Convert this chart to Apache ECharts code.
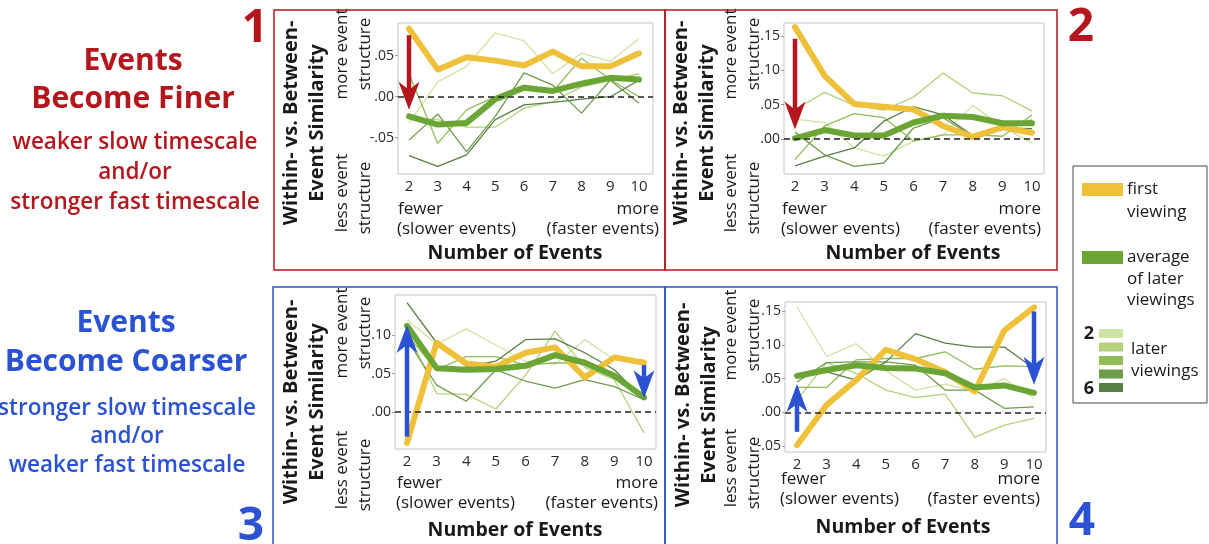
<!DOCTYPE html>
<html><head><meta charset="utf-8">
<script src="https://cdn.jsdelivr.net/npm/echarts@6/dist/echarts.min.js"></script>
<style>html,body{margin:0;padding:0;background:#fff}#c{width:1209px;height:544px}</style>
</head><body><div id="c"></div>
<script>
// ---------- DATA ----------
const numEvents = [2, 3, 4, 5, 6, 7, 8, 9, 10];

// Panel 1: Events become finer (red, left)
const p1First = [0.083, 0.033, 0.048, 0.044, 0.038, 0.055, 0.037, 0.037, 0.053];
const p1Avg   = [-0.024, -0.034, -0.032, -0.003, 0.011, 0.007, 0.016, 0.023, 0.021];
const p1View2 = [-0.032, 0.018, 0.037, 0.078, 0.068, 0.028, 0.053, 0.043, 0.071];
const p1View3 = [-0.026, -0.028, -0.037, -0.037, -0.014, -0.006, 0.012, 0.020, 0.028];
const p1View4 = [0.028, -0.057, -0.016, 0.000, 0.014, 0.006, 0.047, 0.021, 0.000];
const p1View5 = [-0.053, -0.021, -0.067, -0.024, 0.029, 0.014, -0.020, 0.020, -0.008];
const p1View6 = [-0.072, -0.085, -0.071, -0.028, -0.010, -0.007, -0.003, 0.000, 0.020];
const p1Arrows = [[2, 0.075, -0.016]];

// Panel 2: Events become finer (red, right)
const p2First = [0.163, 0.092, 0.051, 0.047, 0.043, 0.019, 0.003, 0.017, 0.009];
const p2Avg   = [0.001, 0.013, 0.005, 0.005, 0.024, 0.034, 0.032, 0.023, 0.023];
const p2View2 = [0.029, 0.024, -0.013, -0.025, -0.003, 0.006, 0.049, 0.018, -0.006];
const p2View3 = [0.043, 0.068, 0.049, 0.042, 0.061, 0.096, 0.067, 0.063, 0.041];
const p2View4 = [-0.030, 0.019, 0.037, 0.031, -0.003, 0.006, 0.006, 0.004, 0.035];
const p2View5 = [0.010, -0.023, -0.040, -0.035, 0.016, 0.031, 0.004, 0.014, 0.028];
const p2View6 = [-0.039, -0.025, -0.013, 0.026, 0.047, 0.035, 0.005, 0.016, 0.015];
const p2Arrows = [[2, 0.146, 0.014]];

// Panel 3: Events become coarser (blue, left)
const p3First = [-0.040, 0.090, 0.063, 0.059, 0.077, 0.084, 0.045, 0.071, 0.064];
const p3Avg   = [0.112, 0.057, 0.055, 0.056, 0.060, 0.074, 0.064, 0.047, 0.019];
const p3View2 = [0.120, 0.088, 0.108, 0.087, 0.066, 0.062, 0.094, 0.068, 0.068];
const p3View3 = [0.105, 0.024, 0.023, 0.004, 0.048, 0.105, 0.058, 0.042, -0.027];
const p3View4 = [0.100, 0.055, 0.072, 0.072, 0.061, 0.064, 0.063, 0.048, 0.018];
const p3View5 = [0.094, 0.035, 0.014, 0.055, 0.040, 0.031, 0.042, 0.033, 0.016];
const p3View6 = [0.142, 0.090, 0.059, 0.066, 0.094, 0.095, 0.077, 0.055, 0.016];
const p3Arrows = [[2, -0.032, 0.113], [10, 0.061, 0.018]];

// Panel 4: Events become coarser (blue, right)
const p4First = [-0.049, 0.011, 0.048, 0.093, 0.079, 0.060, 0.031, 0.122, 0.156];
const p4Avg   = [0.054, 0.063, 0.070, 0.066, 0.065, 0.058, 0.037, 0.040, 0.029];
const p4View2 = [0.157, 0.083, 0.102, 0.062, 0.033, 0.042, 0.031, 0.050, 0.021];
const p4View3 = [0.018, 0.074, 0.058, 0.033, 0.022, 0.027, -0.037, -0.019, -0.009];
const p4View4 = [0.037, 0.037, 0.078, 0.080, 0.080, 0.090, 0.064, 0.069, 0.068];
const p4View5 = [0.045, 0.074, 0.075, 0.075, 0.070, 0.033, 0.033, 0.006, 0.008];
const p4View6 = [0.052, 0.060, 0.048, 0.075, 0.117, 0.103, 0.097, 0.097, 0.065];
const p4Arrows = [[2, -0.029, 0.042], [10, 0.150, 0.041]];

const p1YTicks = [-0.05, 0, 0.05];
const p2YTicks = [0, 0.05, 0.10, 0.15];
const p3YTicks = [0, 0.05, 0.10];
const p4YTicks = [-0.05, 0, 0.05, 0.10, 0.15];

// ---------- STYLE ----------
const RED = '#b5161d', BLUE = '#2b52d3';
const YELLOW = '#efc13a', GREEN = '#6aa535';
const VIEW_COLORS = ['#cfe4a3', '#b2d27c', '#90bd59', '#6f9c49', '#577f45'];
const FONT = '"Open Sans", "Noto Sans", sans-serif';

const panels = [
  { grid: {left: 398, top: 23, width: 255, height: 151}, xr: [1.617, 10.487], yr: [-0.0943, 0.0899], ticks: p1YTicks,
    first: p1First, avg: p1Avg, views: [p1View2, p1View3, p1View4, p1View5, p1View6], arrows: p1Arrows, color: RED,
    L: {tx: 291, ty: 123, mx: 342, my: 54, ly: 193, fx: 398, rx: 659, fy: 209, ny: 253, nx: 515} },
  { grid: {left: 784, top: 23, width: 260, height: 151}, xr: [1.629, 10.405], yr: [-0.051, 0.169], ticks: p2YTicks,
    first: p2First, avg: p2Avg, views: [p2View2, p2View3, p2View4, p2View5, p2View6], arrows: p2Arrows, color: RED,
    L: {tx: 681, ty: 123, mx: 731, my: 54, ly: 193, fx: 782, rx: 1041, fy: 209, ny: 253, nx: 913} },
  { grid: {left: 395, top: 295, width: 261, height: 154}, xr: [1.595, 10.405], yr: [-0.048, 0.152], ticks: p3YTicks,
    first: p3First, avg: p3Avg, views: [p3View2, p3View3, p3View4, p3View5, p3View6], arrows: p3Arrows, color: BLUE,
    L: {tx: 291, ty: 402, mx: 342, my: 333, ly: 470, fx: 397, rx: 658, fy: 483, ny: 530, nx: 515} },
  { grid: {left: 785, top: 302, width: 261, height: 150}, xr: [1.595, 10.405], yr: [-0.059, 0.164], ticks: p4YTicks,
    first: p4First, avg: p4Avg, views: [p4View2, p4View3, p4View4, p4View5, p4View6], arrows: p4Arrows, color: BLUE,
    L: {tx: 683, ty: 405, mx: 731, my: 335, ly: 468, fx: 781, rx: 1040, fy: 479, ny: 527, nx: 903} }
];

const fmt = v => (v < 0 ? '-' : '') + Math.abs(v).toFixed(2).replace(/^0/, '');

const grids = [], xAxes = [], yAxes = [], series = [], graphics = [];

function txt(text, x, y, opts) {
  opts = opts || {};
  return {
    type: 'text', x: x, y: y, rotation: opts.rot ? Math.PI / 2 : 0, silent: true,
    style: { text: text, x: 0, y: 0, fill: opts.fill || '#1a1a1a',
      font: (opts.weight || 'normal') + ' ' + (opts.size || 16) + 'px ' + FONT,
      textAlign: opts.align || 'center', textVerticalAlign: 'middle' }
  };
}

panels.forEach((p, i) => {
  grids.push(Object.assign({ show: true, borderColor: '#c4c4c4', borderWidth: 1, backgroundColor: 'transparent' }, p.grid));
  xAxes.push({ gridIndex: i, type: 'value', min: p.xr[0], max: p.xr[1],
    axisLine: {show: false}, splitLine: {show: false}, axisTick: {show: false},
    axisLabel: { customValues: numEvents, color: '#2a2a2a', fontSize: 15, fontFamily: FONT, margin: 5 } });
  yAxes.push({ gridIndex: i, type: 'value', min: p.yr[0], max: p.yr[1],
    axisLine: {show: false}, splitLine: {show: false},
    axisTick: { show: true, customValues: p.ticks, length: 3, lineStyle: {color: '#999'} },
    axisLabel: { customValues: p.ticks, formatter: fmt, color: '#2a2a2a', fontSize: 14, fontFamily: FONT, margin: 4 } });

  const toData = arr => numEvents.map((x, j) => [x, arr[j]]);
  p.views.forEach((arr, k) => {
    series.push({ type: 'line', xAxisIndex: i, yAxisIndex: i, data: toData(arr), symbol: 'none', silent: true,
      lineStyle: { color: VIEW_COLORS[k], width: 1.3 }, z: 2,
      markLine: k === 0 ? { silent: true, symbol: 'none', label: {show: false}, animation: false,
        lineStyle: { color: '#222', type: [6, 4], width: 1.6 }, data: [{ yAxis: 0 }] } : undefined });
  });
  series.push({ type: 'line', xAxisIndex: i, yAxisIndex: i, data: toData(p.first), symbol: 'none', silent: true, z: 3,
    lineStyle: { color: YELLOW, width: 6, cap: 'round', join: 'round' } });
  series.push({ type: 'line', xAxisIndex: i, yAxisIndex: i, data: toData(p.avg), symbol: 'none', silent: true, z: 4,
    lineStyle: { color: GREEN, width: 6, cap: 'round', join: 'round' } });
  // arrows
  series.push({ type: 'custom', xAxisIndex: i, yAxisIndex: i, data: p.arrows, z: 5, silent: true, clip: false,
    encode: { x: 0, y: [1, 2] },
    renderItem: (params, api) => {
      const a = api.coord([api.value(0), api.value(1)]);
      const b = api.coord([api.value(0), api.value(2)]);
      const dir = b[1] > a[1] ? 1 : -1;
      const headLen = 28, halfW = 10.5, notch = 8;
      const baseY = b[1] - dir * headLen;
      return { type: 'group', children: [
        { type: 'line', shape: { x1: a[0], y1: a[1], x2: b[0], y2: baseY + dir * notch },
          style: { stroke: p.color, lineWidth: 4.5 } },
        { type: 'polygon', shape: { points: [[b[0], b[1]], [b[0] - halfW, baseY], [b[0], baseY + dir * notch], [b[0] + halfW, baseY]] },
          style: { fill: p.color } }
      ]};
    } });

  const L = p.L;
  graphics.push(txt('Within- vs. Between-', L.tx, L.ty, {rot: true, weight: 'bold', size: 20}));
  graphics.push(txt('Event Similarity', L.tx + 26, L.ty, {rot: true, weight: 'bold', size: 20}));
  graphics.push(txt('more event', L.mx, L.my, {rot: true, size: 17}));
  graphics.push(txt('structure', L.mx + 23, L.my, {rot: true, size: 17}));
  graphics.push(txt('less event', L.mx, L.ly, {rot: true, size: 17}));
  graphics.push(txt('structure', L.mx + 23, L.ly + 5, {rot: true, size: 17}));
  graphics.push(txt('fewer', L.fx, L.fy, {align: 'left', size: 17}));
  graphics.push(txt('(slower events)', L.fx - 1, L.fy + 20, {align: 'left', size: 17}));
  graphics.push(txt('more', L.rx, L.fy, {align: 'right', size: 17}));
  graphics.push(txt('(faster events)', L.rx, L.fy + 20, {align: 'right', size: 17}));
  graphics.push(txt('Number of Events', L.nx, L.ny, {weight: 'bold', size: 19.5}));
});

// frames
function box(x, y, w, h, c) {
  return { type: 'rect', silent: true, shape: {x: x, y: y, width: w, height: h}, style: { fill: 'none', stroke: c, lineWidth: 1.5 } };
}
graphics.push(box(274, 10, 391, 260, RED), box(665, 10, 392, 260, RED));
graphics.push(box(273, 287, 392, 265, BLUE), box(665, 287, 392, 265, BLUE));

// panel numbers
graphics.push(txt('1', 255, 29, {weight: 'bold', size: 46, fill: RED}));
graphics.push(txt('2', 1081, 28, {weight: 'bold', size: 46, fill: RED}));
graphics.push(txt('3', 251, 527, {weight: 'bold', size: 46, fill: BLUE}));
graphics.push(txt('4', 1082, 522, {weight: 'bold', size: 46, fill: BLUE}));

// side labels
graphics.push(txt('Events', 133, 61, {weight: 'bold', size: 30, fill: RED}));
graphics.push(txt('Become Finer', 133, 99, {weight: 'bold', size: 30, fill: RED}));
graphics.push(txt('weaker slow timescale', 135, 143, {weight: 600, size: 22.5, fill: RED}));
graphics.push(txt('and/or', 135, 173, {weight: 600, size: 22.5, fill: RED}));
graphics.push(txt('stronger fast timescale', 135, 203, {weight: 600, size: 22.5, fill: RED}));
graphics.push(txt('Events', 126, 323, {weight: 'bold', size: 30, fill: BLUE}));
graphics.push(txt('Become Coarser', 126, 362, {weight: 'bold', size: 30, fill: BLUE}));
graphics.push(txt('stronger slow timescale', 127, 409, {weight: 600, size: 22.5, fill: BLUE}));
graphics.push(txt('and/or', 127, 437, {weight: 600, size: 22.5, fill: BLUE}));
graphics.push(txt('weaker fast timescale', 127, 466, {weight: 600, size: 22.5, fill: BLUE}));

// legend
graphics.push({ type: 'rect', silent: true, shape: {x: 1073, y: 166, width: 134, height: 237}, style: {fill: '#fff', stroke: '#444', lineWidth: 1} });
graphics.push({ type: 'rect', silent: true, shape: {x: 1082, y: 183, width: 41, height: 13}, style: {fill: YELLOW} });
graphics.push(txt('first', 1127, 189, {align: 'left', size: 17}));
graphics.push(txt('viewing', 1127, 212, {align: 'left', size: 17}));
graphics.push({ type: 'rect', silent: true, shape: {x: 1082, y: 251, width: 41, height: 13}, style: {fill: GREEN} });
graphics.push(txt('average', 1127, 257, {align: 'left', size: 17}));
graphics.push(txt('of later', 1127, 279, {align: 'left', size: 17}));
graphics.push(txt('viewings', 1127, 300, {align: 'left', size: 17}));
VIEW_COLORS.forEach((c, k) => {
  graphics.push({ type: 'rect', silent: true, shape: {x: 1099, y: 329 + k * 13.5, width: 24, height: 9}, style: {fill: c} });
});
graphics.push(txt('2', 1089, 334, {weight: 'bold', size: 18}));
graphics.push(txt('6', 1089, 389, {weight: 'bold', size: 18}));
graphics.push(txt('later', 1131, 349, {align: 'left', size: 17}));
graphics.push(txt('viewings', 1131, 371, {align: 'left', size: 17}));

const chart = echarts.init(document.getElementById('c'), null, {renderer: 'canvas'});
chart.setOption({
  animation: false,
  backgroundColor: '#fff',
  grid: grids, xAxis: xAxes, yAxis: yAxes, series: series,
  graphic: graphics
});
</script></body></html>
